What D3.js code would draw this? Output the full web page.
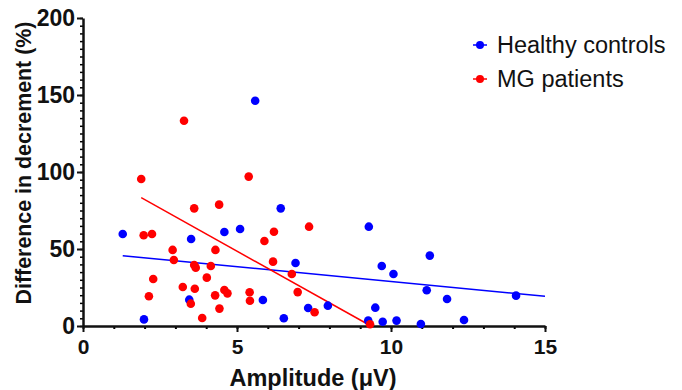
<!DOCTYPE html>
<html>
<head>
<meta charset="utf-8">
<script src="https://cdn.jsdelivr.net/npm/d3@7"></script>
<style>
  body { margin: 0; background: #fff; }
  svg { font-family: "Liberation Sans", Arial, sans-serif; }
</style>
</head>
<body>
<div id="chart"></div>
<script>
// healthy controls: amplitude (uV), difference in decrement (%)
var hc_x = [1.29, 1.98, 3.45, 3.51, 4.59, 5.10, 5.59, 5.84, 6.42, 6.52, 6.90, 7.31, 7.95,
            9.26, 9.28, 9.49, 9.70, 9.73, 10.08, 10.18, 10.97, 11.16, 11.26, 11.82, 12.37, 14.06];
var hc_y = [59.7, 4.3, 17.1, 56.5, 61, 63, 146.3, 16.9, 76.4, 5, 40.9, 11.7, 13.2,
            3.5, 64.5, 11.9, 39, 2.8, 33.8, 3.5, 1.3, 23.2, 45.7, 17.5, 3.9, 19.7];

// MG patients
var mg_x = [1.89, 1.97, 2.14, 2.24, 2.28, 2.91, 2.95, 3.24, 3.28, 3.50, 3.61, 3.61, 3.63, 3.66,
            3.87, 4.02, 4.15, 4.29, 4.30, 4.42, 4.43, 4.59, 4.69, 5.38, 5.41, 5.42,
            5.89, 6.17, 6.20, 6.78, 6.97, 7.34, 7.52, 9.32];
var mg_y = [95.5, 58.9, 19.3, 59.7, 30.5, 49.4, 42.9, 25.3, 133.3, 14.5, 76.4, 39.6, 24.2, 37.9,
            5.2, 31.4, 39, 19.9, 49.4, 78.8, 11.3, 23.4, 21.2, 97, 21.9, 16.4,
            55.2, 41.8, 61.2, 33.8, 22, 64.5, 8.9, 1.1];

// fitted lines, end points
var hc_fit_x = [1.29, 15];
var hc_fit_y = [45.6, 19.3];
var mg_fit_x = [1.89, 9.35];
var mg_fit_y = [83.3, 0];

var x_ticks = [0, 5, 10, 15];
var y_ticks = [0, 50, 100, 150, 200];
var legend_names = ["Healthy controls", "MG patients"];
var colors = ["#0000ff", "#ff0000"];

var width = 682, height = 390;
var margin = {top: 18, right: 137, bottom: 64, left: 83};
var w = width - margin.left - margin.right,
    h = height - margin.top - margin.bottom;

var svg = d3.select("#chart").append("svg")
    .attr("width", width)
    .attr("height", height);

var g = svg.append("g")
    .attr("transform", "translate(" + margin.left + "," + margin.top + ")");

var x = d3.scaleLinear().domain([0, 15]).range([0, w]);
var y = d3.scaleLinear().domain([0, 200]).range([h, 0]);

// minor ticks
g.append("g")
    .attr("transform", "translate(0," + h + ")")
    .call(d3.axisBottom(x).tickValues(d3.range(0, 16, 1)).tickSize(3).tickFormat(""))
    .call(s => s.select(".domain").remove())
    .selectAll("line").attr("stroke-width", 2);
g.append("g")
    .call(d3.axisLeft(y).tickValues(d3.range(0, 201, 5)).tickSize(3).tickFormat(""))
    .call(s => s.select(".domain").remove())
    .selectAll("line").attr("stroke-width", 1.5);

var xAxis = g.append("g")
    .attr("transform", "translate(0," + h + ")")
    .call(d3.axisBottom(x).tickValues(x_ticks).tickSize(6).tickSizeOuter(0).tickPadding(7));
var yAxis = g.append("g")
    .call(d3.axisLeft(y).tickValues(y_ticks).tickSize(6).tickSizeOuter(0).tickPadding(2));

[xAxis, yAxis].forEach(function(a) {
    a.select(".domain").attr("stroke-width", 2.5).attr("stroke", "#111");
    a.selectAll(".tick line").attr("stroke-width", 2).attr("stroke", "#111");
    a.selectAll(".tick text")
        .style("font-weight", "bold")
        .attr("fill", "#111");
});
xAxis.selectAll(".tick text").style("font-size", "21px");
yAxis.selectAll(".tick text").style("font-size", "23px");

// axis titles
svg.append("text")
    .attr("x", 313)
    .attr("y", 386)
    .attr("text-anchor", "middle")
    .style("font-size", "23.5px")
    .style("font-weight", "bold")
    .attr("fill", "#111")
    .text("Amplitude (μV)");

svg.append("text")
    .attr("transform", "translate(31,163) rotate(-90)")
    .attr("text-anchor", "middle")
    .style("font-size", "21.4px")
    .style("font-weight", "bold")
    .attr("fill", "#111")
    .text("Difference in decrement (%)");

// fit lines
var line = d3.line().x(d => x(d[0])).y(d => y(d[1]));
g.append("path")
    .datum(d3.zip(hc_fit_x, hc_fit_y))
    .attr("d", line)
    .attr("fill", "none")
    .attr("stroke", colors[0])
    .attr("stroke-width", 1.5);
g.append("path")
    .datum(d3.zip(mg_fit_x, mg_fit_y))
    .attr("d", line)
    .attr("fill", "none")
    .attr("stroke", colors[1])
    .attr("stroke-width", 1.5);

// points
g.selectAll(".hc")
    .data(d3.zip(hc_x, hc_y))
    .enter().append("circle")
    .attr("class", "hc")
    .attr("cx", d => x(d[0]))
    .attr("cy", d => y(d[1]))
    .attr("r", 4.3)
    .attr("fill", colors[0]);
g.selectAll(".mg")
    .data(d3.zip(mg_x, mg_y))
    .enter().append("circle")
    .attr("class", "mg")
    .attr("cx", d => x(d[0]))
    .attr("cy", d => y(d[1]))
    .attr("r", 4.3)
    .attr("fill", colors[1]);

// legend
var legend = svg.append("g").attr("transform", "translate(480,45)");
var item = legend.selectAll("g")
    .data(legend_names)
    .enter().append("g")
    .attr("transform", (d, i) => "translate(0," + i * 34 + ")");
item.append("line")
    .attr("x1", -7).attr("x2", 7)
    .attr("stroke", (d, i) => colors[i])
    .attr("stroke-width", 1.5);
item.append("circle")
    .attr("r", 4)
    .attr("fill", (d, i) => colors[i]);
item.append("text")
    .attr("x", 17)
    .attr("y", 8)
    .style("font-size", "23.5px")
    .attr("fill", "#111")
    .text(d => d);
</script>
</body>
</html>
